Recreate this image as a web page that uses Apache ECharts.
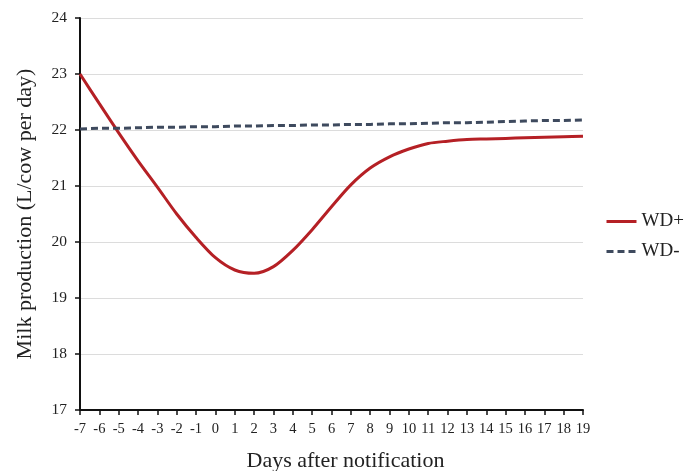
<!DOCTYPE html>
<html><head><meta charset="utf-8">
<script src="https://cdn.jsdelivr.net/npm/echarts@6/dist/echarts.min.js"></script>
<style>html,body{margin:0;padding:0;background:#fff}#c{width:692px;height:471px}</style>
</head><body><div id="c"></div>
<script>
var days = [-7,-6,-5,-4,-3,-2,-1,0,1,2,3,4,5,6,7,8,9,10,11,12,13,14,15,16,17,18,19];
var wdPlus = [23.0,22.47,21.95,21.45,20.98,20.5,20.08,19.72,19.5,19.44,19.56,19.85,20.22,20.63,21.02,21.32,21.52,21.66,21.76,21.8,21.83,21.84,21.85,21.86,21.87,21.88,21.89];
var wdMinus = [22.02,22.03,22.03,22.04,22.05,22.05,22.06,22.06,22.07,22.07,22.08,22.08,22.09,22.09,22.10,22.10,22.11,22.11,22.12,22.13,22.13,22.14,22.15,22.16,22.17,22.17,22.18];
var yTicks = [17,18,19,20,21,22,23,24];
var font = '"Liberation Serif", "Times New Roman", serif';
var chart = echarts.init(document.getElementById('c'));
chart.setOption({
  animation: false,
  textStyle: {fontFamily: font},
  grid: {left: 80, right: 109, top: 18, bottom: 61, containLabel: false, outerBoundsMode: 'none'},
  legend: {
    orient: 'vertical', left: 600, top: 207, itemGap: 11,
    itemWidth: 30, itemHeight: 16,
    itemStyle: {opacity: 0},
    lineStyle: {width: 3},
    textStyle: {fontFamily: font, fontSize: 19, color: '#222'},
    data: ['WD+', 'WD-']
  },
  xAxis: {
    type: 'category', data: days, boundaryGap: false,
    name: 'Days after notification', nameLocation: 'middle', nameGap: 40,
    nameTextStyle: {fontFamily: font, fontSize: 22, color: '#222', padding: [0,0,0,28]},
    axisLine: {lineStyle: {color: '#111', width: 2}},
    axisTick: {show: true, alignWithLabel: true, length: 5, lineStyle: {color: '#111', width: 1.5}},
    axisLabel: {fontFamily: font, fontSize: 14.5, color: '#222', interval: 0, margin: 12},
    splitLine: {show: false}
  },
  yAxis: {
    type: 'value', min: yTicks[0], max: yTicks[yTicks.length-1], interval: 1,
    name: 'Milk production (L/cow per day)', nameLocation: 'middle', nameGap: 44,
    nameTextStyle: {fontFamily: font, fontSize: 22, color: '#222'},
    axisLine: {show: true, lineStyle: {color: '#111', width: 2}},
    axisTick: {show: true, length: 5, lineStyle: {color: '#111', width: 1.5}},
    axisLabel: {fontFamily: font, fontSize: 15.5, color: '#222', margin: 13},
    splitLine: {show: true, lineStyle: {color: '#dcdcdc', width: 1}}
  },
  series: [
    {name: 'WD+', type: 'line', data: wdPlus, smooth: 0.3, symbol: 'none',
     lineStyle: {color: '#b52025', width: 3}, itemStyle: {color: '#b52025'}},
    {name: 'WD-', type: 'line', data: wdMinus, smooth: false, symbol: 'none',
     lineStyle: {color: '#3e4a5e', width: 3, type: [7, 4]}, itemStyle: {color: '#3e4a5e'}}
  ]
});
</script></body></html>
